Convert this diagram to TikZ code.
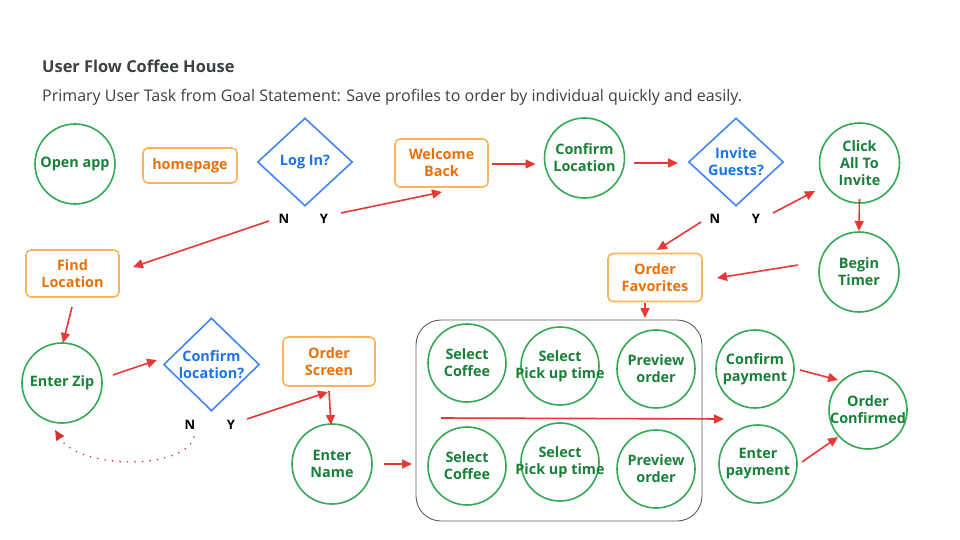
\documentclass[tikz,border=0pt]{standalone}
\usepackage{fontspec}
\setmainfont{Open Sans}
\usetikzlibrary{shapes.geometric,arrows.meta,calc}
\definecolor{gline}{HTML}{34A853}
\definecolor{gtext}{HTML}{188038}
\definecolor{oline}{HTML}{F9B65C}
\definecolor{otext}{HTML}{E8710A}
\definecolor{bline}{HTML}{4285F4}
\definecolor{btext}{HTML}{1A73E8}
\definecolor{rarr}{HTML}{E53935}
\definecolor{ttl}{HTML}{3C4043}
\begin{document}
\begin{tikzpicture}[x=1pt,y=-1pt,
 txt/.style={font=\fontsize{14.4}{17}\selectfont\bfseries, align=center},
 circ/.style={txt, circle, draw=gline, line width=1.6pt, text=gtext, minimum size=80pt, inner sep=-10pt},
 scirc/.style={circ, minimum size=78pt},
 obox/.style={txt, rectangle, rounded corners=5pt, draw=oline, line width=1.6pt, text=otext, minimum width=93pt, minimum height=47pt, inner sep=0pt},
 dia/.style={txt, diamond, draw=bline, line width=1.6pt, text=btext, minimum width=95pt, minimum height=88pt, inner sep=0pt, aspect=1.08},
 yn/.style={font=\fontsize{13}{15}\selectfont\bfseries, text=black},
 arr/.style={draw=rarr, line width=1.6pt, -{Triangle[length=10pt,width=9pt]}},
 darr/.style={draw=rarr!90!black, line width=1.8pt, line cap=round, dash pattern=on 0pt off 7.5pt, -{Triangle[length=10pt,width=9pt]}}
]
\useasboundingbox (0,0) rectangle (960,540);

\node[anchor=base west, inner sep=0pt, font=\fontsize{16.4}{19}\selectfont\bfseries, text=ttl] (title) at (42,73) {User Flow Coffee House};
\node[anchor=base west, inner sep=0pt, font=\fontsize{16}{19}\selectfont, text=ttl] (sub) at (42,102) {Primary User Task from Goal Statement: Save profiles to order by individual quickly and easily.};

% row 1
\node[circ] (openapp) at (75,164) {Open app};
\node[obox, minimum width=94pt, minimum height=35pt] (home) at (190,165.5) {homepage};
\node[dia] (login) at (305,162) {Log In?};
\node[yn] (loginN) at (284,219) {N};
\node[yn] (loginY) at (324,219) {Y};
\node[obox, minimum height=48pt] (welcome) at (441.5,163) {Welcome\\Back};
\node[circ] (confloc) at (584.5,158) {Confirm\\Location};
\node[dia] (invite) at (736,162) {Invite\\Guests?};
\node[yn] (inviteN) at (715,219) {N};
\node[yn] (inviteY) at (756,219) {Y};
\node[circ] (click) at (859.5,163) {Click\\All To\\Invite};
\node[circ] (timer) at (859,272) {Begin\\Timer};
\node[obox, minimum width=94pt, minimum height=48pt] (orderfav) at (655,277.5) {Order\\Favorites};

% left column
\node[obox] (findloc) at (72.5,273.5) {Find\\Location};
\node[circ] (zip) at (62,383) {Enter Zip};
\node[dia, minimum height=93pt] (conf2) at (211.5,364.5) {Confirm\\location?};
\node[yn] (conf2N) at (190,425) {N};
\node[yn] (conf2Y) at (231,425) {Y};
\node[obox, minimum width=92pt, minimum height=49pt] (ordscr) at (329,361.5) {Order\\Screen};
\node[circ] (ename) at (332,464) {Enter\\Name};

% container
\node[draw=ttl!85, line width=0.9pt, rounded corners=25pt, minimum width=286pt, minimum height=201pt, inner sep=0pt] (box) at (559,420.5) {};
\node[scirc] (sc1) at (467,363) {Select\\Coffee};
\node[scirc] (pu1) at (560,366) {Select\\Pick up time};
\node[scirc] (pv1) at (656,369) {Preview\\order};
\node[scirc] (sc2) at (467,466) {Select\\Coffee};
\node[scirc] (pu2) at (560,462) {Select\\Pick up time};
\node[scirc] (pv2) at (656,469) {Preview\\order};

\node[scirc] (cpay) at (755,369) {Confirm\\payment};
\node[scirc] (epay) at (758,464) {Enter\\payment};
\node[scirc] (oconf) at (868,410) {Order\\Confirmed};

% arrows
\draw[arr] ($(loginY)+(17,-6)$) -- ($(welcome)+(0.5,29)$);
\draw[arr] ($(loginN)+(-15,2)$) -- ($(findloc)+(60.5,-6.5)$);
\draw[arr] ($(welcome)+(50.5,1)$) -- ($(confloc)+(-49,6)$);
\draw[arr] ($(confloc)+(49.5,5)$) -- ($(invite)+(-58,1)$);
\draw[arr] ($(inviteY)+(17,-6)$) -- ($(click)+(-44.5,28)$);
\draw[arr] ($(inviteN)+(-14,3)$) -- ($(orderfav)+(2,-27.5)$);
\draw[arr] ($(click)+(0,36)$) -- ($(timer)+(0,-41)$);
\draw[arr] ($(timer)+(-61,-7)$) -- ($(orderfav)+(62,0.5)$);
\draw[arr] ($(findloc)+(-0.5,33.5)$) -- ($(zip)+(1,-40)$);
\draw[arr] ($(zip)+(51,-8)$) -- ($(conf2)+(-54.5,-4.5)$);
\draw[arr] ($(conf2Y)+(16,-6)$) -- ($(ordscr)+(-1,30.5)$);
\draw[arr] ($(ordscr)+(0,29.5)$) -- ($(ename)+(-1,-39)$);
\draw[darr] ($(conf2N)+(4,12)$) .. controls ($(conf2N)+(-5,45)$) and ($(zip)+(18,87)$) .. ($(zip)+(-7,47)$);
\draw[arr] ($(ename)+(52,0)$) -- ($(ename)+(80,0)$);
\draw[arr] ($(orderfav)+(-10,25.5)$) -- ($(orderfav)+(-10,40.5)$);
\draw[arr] ($(box)+(-118,-2.5)$) -- ($(box)+(165,-1.5)$);
\draw[arr] ($(cpay)+(45,1)$) -- ($(oconf)+(-30,-30)$);
\draw[arr] ($(epay)+(44,-2)$) -- ($(oconf)+(-30,27)$);
\end{tikzpicture}
\end{document}
